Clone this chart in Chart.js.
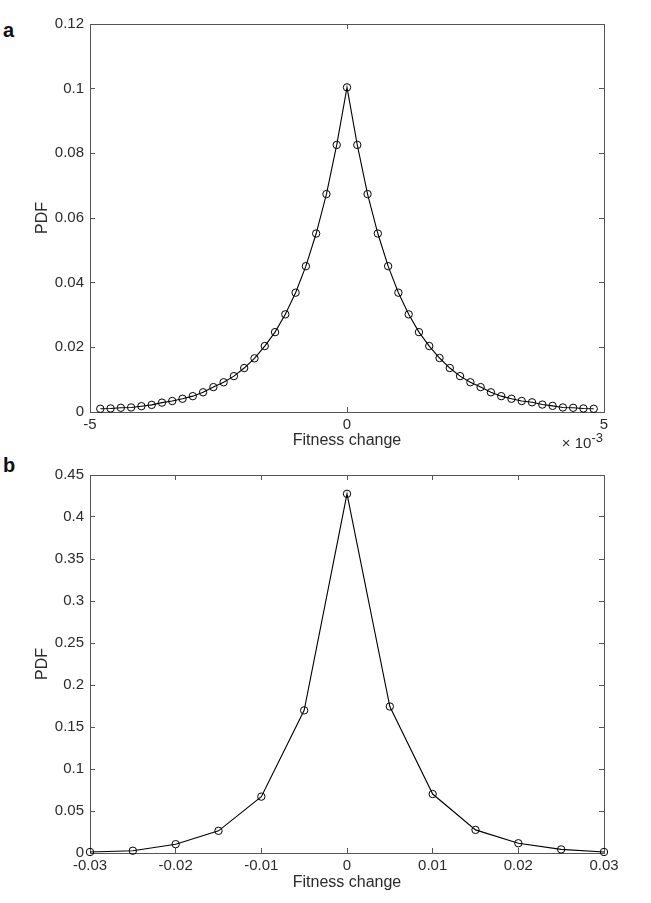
<!DOCTYPE html>
<html>
<head>
<meta charset="utf-8">
<script src="https://cdn.jsdelivr.net/npm/chart.js@4.4.1/dist/chart.umd.min.js"></script>
<style>
  body { margin: 0; background: #fff; }
  #wrap { position: relative; width: 651px; height: 903px; overflow: hidden; }
  canvas { position: absolute; left: 0; }
  .panel { position: absolute; left: 3px; font: bold 20px "Liberation Sans", Arial, sans-serif; line-height: 1; color: #111; }
</style>
</head>
<body>
<div id="wrap">
  <div class="panel" style="top:20px">a</div>
  <div class="panel" style="top:455px">b</div>
  <canvas id="chartA" width="651" height="455" style="top:0"></canvas>
  <canvas id="chartB" width="651" height="448" style="top:455px"></canvas>
</div>
<script>
// panel a: fitness change (axis shows units of 1e-3)
const fitnessA = [
  -0.0048, -0.0046, -0.0044, -0.0042, -0.0040, -0.0038, -0.0036, -0.0034, -0.0032, -0.0030,
  -0.0028, -0.0026, -0.0024, -0.0022, -0.0020, -0.0018, -0.0016, -0.0014, -0.0012, -0.0010,
  -0.0008, -0.0006, -0.0004, -0.0002, 0,
  0.0002, 0.0004, 0.0006, 0.0008, 0.0010, 0.0012, 0.0014, 0.0016, 0.0018, 0.0020,
  0.0022, 0.0024, 0.0026, 0.0028, 0.0030, 0.0032, 0.0034, 0.0036, 0.0038, 0.0040,
  0.0042, 0.0044, 0.0046, 0.0048
];
const pdfA = [
  0.0010, 0.0011, 0.0013, 0.0014, 0.0018, 0.0022, 0.0029, 0.0034, 0.0041, 0.0049,
  0.0061, 0.0077, 0.0092, 0.0111, 0.0136, 0.0166, 0.0204, 0.0247, 0.0302, 0.0369,
  0.0451, 0.0552, 0.0674, 0.0826, 0.1004,
  0.0826, 0.0674, 0.0552, 0.0451, 0.0369, 0.0302, 0.0247, 0.0204, 0.0167, 0.0136,
  0.0111, 0.0092, 0.0077, 0.0061, 0.0049, 0.0041, 0.0034, 0.0030, 0.0023, 0.0019,
  0.0014, 0.0013, 0.0011, 0.0010
];
const xTicksA = [-0.005, 0, 0.005];
const xLabelsA = ['-5', '0', '5'];
const yTicksA = [0, 0.02, 0.04, 0.06, 0.08, 0.1, 0.12];
const yLabelsA = ['0', '0.02', '0.04', '0.06', '0.08', '0.1', '0.12'];

// panel b
const fitnessB = [-0.03, -0.025, -0.02, -0.015, -0.01, -0.005, 0, 0.005, 0.01, 0.015, 0.02, 0.025, 0.03];
const pdfB = [0.0012, 0.0027, 0.0105, 0.0264, 0.0671, 0.1698, 0.4276, 0.1744, 0.0702, 0.0275, 0.0116, 0.0043, 0.0012];
const xTicksB = [-0.03, -0.02, -0.01, 0, 0.01, 0.02, 0.03];
const xLabelsB = ['-0.03', '-0.02', '-0.01', '0', '0.01', '0.02', '0.03'];
const yTicksB = [0, 0.05, 0.1, 0.15, 0.2, 0.25, 0.3, 0.35, 0.4, 0.45];
const yLabelsB = ['0', '0.05', '0.1', '0.15', '0.2', '0.25', '0.3', '0.35', '0.4', '0.45'];

const FONT = '"Liberation Sans", Arial, Helvetica, sans-serif';
const AXIS_COLOR = '#555';
const TEXT_COLOR = '#2b2b2b';

function fixedTicks(values) {
    return (scale) => { scale.ticks = values.map(v => ({ value: v })); };
}

function makeScales(cfg) {
    // negative tick length puts the tick marks inside the box, matlab style
    const grid = { drawOnChartArea: false, drawTicks: true, tickLength: -5, color: AXIS_COLOR, lineWidth: 1 };
    const border = { display: true, color: AXIS_COLOR, width: 1 };
    return {
        x: {
            type: 'linear', position: 'bottom', min: cfg.xMin, max: cfg.xMax,
            afterBuildTicks: fixedTicks(cfg.xTicks),
            afterFit: (s) => { s.height = cfg.xHeight; },
            grid, border,
            ticks: {
                color: TEXT_COLOR, padding: 9, maxRotation: 0, autoSkip: false,
                font: { family: FONT, size: 15 },
                callback: (v, i) => cfg.xLabels[i]
            },
            title: {
                display: true, text: 'Fitness change', color: TEXT_COLOR,
                font: { family: FONT, size: 16 }, padding: { top: 0, bottom: cfg.xTitlePad }
            }
        },
        y: {
            type: 'linear', position: 'left', min: cfg.yMin, max: cfg.yMax,
            afterBuildTicks: fixedTicks(cfg.yTicks),
            afterFit: (s) => { s.width = 90; },
            grid, border,
            ticks: {
                color: TEXT_COLOR, padding: 11, autoSkip: false,
                font: { family: FONT, size: 15 },
                callback: (v, i) => cfg.yLabels[i]
            },
            title: {
                display: true, text: 'PDF', color: TEXT_COLOR,
                font: { family: FONT, size: 16 }, padding: { top: 33, bottom: 0 }
            }
        },
        x2: {
            type: 'linear', position: 'top', min: cfg.xMin, max: cfg.xMax,
            afterBuildTicks: fixedTicks(cfg.xTicks),
            afterFit: (s) => { s.height = 0; },
            grid, border,
            ticks: { display: false }
        },
        y2: {
            type: 'linear', position: 'right', min: cfg.yMin, max: cfg.yMax,
            afterBuildTicks: fixedTicks(cfg.yTicks),
            afterFit: (s) => { s.width = 0; },
            grid, border,
            ticks: { display: false }
        }
    };
}

// "x 10^-3" multiplier under the right end of the x axis
const exponentLabel = {
    id: 'exponentLabel',
    afterDraw(chart, args, opts) {
        if (!opts.text) return;
        const ctx = chart.ctx;
        const x = chart.scales.x;
        ctx.save();
        ctx.fillStyle = TEXT_COLOR;
        ctx.textBaseline = 'alphabetic';
        ctx.textAlign = 'right';
        ctx.font = '13px ' + FONT;
        ctx.fillText(opts.exp, x.right - 1, x.top + 30);
        const w = ctx.measureText(opts.exp).width;
        ctx.font = '15px ' + FONT;
        ctx.fillText(opts.text, x.right - 1 - w, x.top + 36);
        ctx.restore();
    }
};

function makeChart(id, xs, ys, cfg) {
    const ctx = document.getElementById(id).getContext('2d');
    return new Chart(ctx, {
        type: 'line',
        data: {
            datasets: [{
                data: xs.map((x, i) => ({ x: x, y: ys[i] })),
                borderColor: '#000',
                borderWidth: 1.1,
                tension: 0,
                fill: false,
                pointRadius: 3.7,
                pointBorderWidth: 1,
                pointBorderColor: '#000',
                pointBackgroundColor: 'rgba(0,0,0,0)',
                clip: false
            }]
        },
        options: {
            responsive: false,
            animation: false,
            devicePixelRatio: 1,
            layout: { padding: { left: 0, right: 47, top: cfg.top, bottom: 0 } },
            plugins: {
                legend: { display: false },
                tooltip: { enabled: false },
                exponentLabel: { text: cfg.expText, exp: cfg.exp }
            },
            scales: makeScales(cfg)
        },
        plugins: [exponentLabel]
    });
}

makeChart('chartA', fitnessA, pdfA, {
    top: 24, xHeight: 43, xTitlePad: 5,
    xMin: -0.005, xMax: 0.005, xTicks: xTicksA, xLabels: xLabelsA,
    yMin: 0, yMax: 0.12, yTicks: yTicksA, yLabels: yLabelsA,
    expText: '\u00d7 10', exp: '-3'
});

makeChart('chartB', fitnessB, pdfB, {
    top: 11, xHeight: 50, xTitlePad: 11,
    xMin: -0.03, xMax: 0.03, xTicks: xTicksB, xLabels: xLabelsB,
    yMin: 0, yMax: 0.45, yTicks: yTicksB, yLabels: yLabelsB,
    expText: null, exp: null
});
</script>
</body>
</html>
